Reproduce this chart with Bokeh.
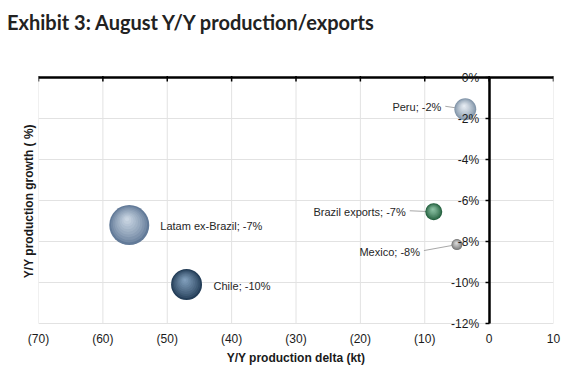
from bokeh.plotting import figure
from bokeh.layouts import column
from bokeh.models import FixedTicker, LinearAxis, ColumnDataSource, Range1d, Div
from bokeh.core.properties import value
from bokeh.embed import file_html
from bokeh.resources import INLINE

# ---------------- data ----------------
names = ["Latam ex-Brazil", "Chile", "Peru", "Brazil exports", "Mexico"]
delta_kt = [-55.9, -47.0, -3.7, -8.6, -5.0]
growth_pct = [-7.2, -10.1, -1.55, -6.55, -8.15]
volume = [1600, 960, 480, 290, 120]
point_labels = ["Latam ex-Brazil; -7%", "Chile; -10%", "Peru; -2%",
                "Brazil exports; -7%", "Mexico; -8%"]
x_ticks = [-70, -60, -50, -40, -30, -20, -10, 0, 10]
x_tick_labels = ["(70)", "(60)", "(50)", "(40)", "(30)", "(20)", "(10)", "0", "10"]
y_ticks = [0, -2, -4, -6, -8, -10, -12]
y_tick_labels = ["0%", "-2%", "-4%", "-6%", "-8%", "-10%", "-12%"]
title_text = "Exhibit 3: August Y/Y production/exports"

# ---------------- style ----------------
edge_cols = ["#627A98", "#243E58", "#8396AA", "#24603F", "#767676"]
light_cols = ["#C9D5E2", "#7F9DBA", "#E6ECF2", "#8CC2A4", "#DADADA"]
label_dx = [31, 27, -24, -28, -37]
label_dy = [1, 1, -2, 0, 7]
label_align = ["left", "left", "right", "right", "right"]
leader = [False, False, True, True, True]

FONT = "Liberation Sans"
XMIN, XMAX, YMIN, YMAX = -70, 10, -12, 0
TITLE_H = 40
ML, MR = 38, 14
FW, FH = 515, 246                         # plot area between the axes, in px
PAD_T, PAD_B = 9, 7                       # room for the y labels
W = ML + FW + MR
MT = 18
MB = 52
H = MT + PAD_T + FH + PAD_B + MB
pxx = FW / (XMAX - XMIN)
pxy = FH / (YMAX - YMIN)

title = Div(text=title_text, width=W, height=TITLE_H,
            styles={"font-family": "Lato", "font-size": "20px", "font-weight": "bold",
                    "color": "#222222", "padding-left": "2px", "padding-top": "5px",
                    "line-height": "24px", "box-sizing": "border-box",
                    "white-space": "nowrap"})

p = figure(width=W, height=H, x_range=Range1d(XMIN, XMAX),
           y_range=Range1d(YMIN - PAD_B / pxy, YMAX + PAD_T / pxy),
           output_backend="svg", toolbar_location=None,
           min_border_left=ML, min_border_right=MR, min_border_top=MT, min_border_bottom=MB,
           x_axis_location=None, y_axis_location=None)
p.outline_line_color = None
p.background_fill_color = "white"
p.border_fill_color = "white"

# grid: horizontal via Grid, vertical drawn between -12% and 0%
p.xgrid.visible = False
p.ygrid.ticker = FixedTicker(ticks=y_ticks)
p.ygrid.grid_line_color = "#E2E2E2"
p.ygrid.grid_line_width = 1
p.segment(x0=x_ticks, y0=[YMIN] * len(x_ticks), x1=x_ticks, y1=[YMAX] * len(x_ticks),
          line_color="#E2E2E2", line_width=1)

# bottom axis: labels only
xb = LinearAxis(ticker=FixedTicker(ticks=x_ticks),
                major_label_overrides={t: l for t, l in zip(x_ticks, x_tick_labels)},
                axis_label="Y/Y production delta (kt)")
xb.axis_line_color = None
xb.major_tick_line_color = None
xb.minor_tick_line_color = None
xb.major_tick_in = 0
xb.major_tick_out = 0
xb.minor_tick_in = 0
xb.minor_tick_out = 0
xb.major_label_text_font = FONT
xb.major_label_text_font_size = "12px"
xb.major_label_text_color = "#1A1A1A"
xb.major_label_standoff = 8 - PAD_B
xb.axis_label_text_font = FONT
xb.axis_label_text_font_size = "12px"
xb.axis_label_text_font_style = "bold"
xb.axis_label_text_color = "#1A1A1A"
xb.axis_label_standoff = 2
p.add_layout(xb, "below")

# left axis: only the title
yl = LinearAxis(ticker=FixedTicker(ticks=[]), axis_label="Y/Y  production growth ( %)")
yl.axis_line_color = None
yl.major_tick_line_color = None
yl.minor_tick_line_color = None
yl.major_tick_in = 0
yl.major_tick_out = 0
yl.minor_tick_in = 0
yl.minor_tick_out = 0
yl.major_label_standoff = 0
yl.axis_label_standoff = 3
yl.axis_label_text_font = FONT
yl.axis_label_text_font_size = "12px"
yl.axis_label_text_font_style = "bold"
yl.axis_label_text_color = "#1A1A1A"
p.add_layout(yl, "left")

# y axis drawn at x = 0
ya = LinearAxis(fixed_location=0, ticker=FixedTicker(ticks=y_ticks), bounds=(YMIN, YMAX),
                major_label_overrides={t: l for t, l in zip(y_ticks, y_tick_labels)})
ya.axis_line_color = "black"
ya.axis_line_width = 2.5
ya.major_tick_line_color = "black"
ya.major_tick_line_width = 1.5
ya.major_tick_in = 0
ya.major_tick_out = 4
ya.minor_tick_line_color = None
ya.major_label_standoff = 6
ya.major_label_text_font = FONT
ya.major_label_text_font_size = "12px"
ya.major_label_text_color = "#1A1A1A"
p.add_layout(ya, "left")

# x axis line at 0% (top) with ticks
p.segment(x0=[XMIN], y0=[YMAX], x1=[XMAX], y1=[YMAX], line_color="black", line_width=2.5)
p.segment(x0=x_ticks, y0=[YMAX + 1.5 / pxy] * len(x_ticks), x1=x_ticks,
          y1=[YMAX - 4 / pxy] * len(x_ticks), line_color="black", line_width=1.5)

# leader lines
for i in range(len(names)):
    if leader[i]:
        x_start = delta_kt[i] + (label_dx[i] + 4) / pxx
        y_start = growth_pct[i] - (label_dy[i] - 1) / pxy
        p.segment(x0=[x_start], y0=[y_start], x1=[delta_kt[i]], y1=[growth_pct[i]],
                  line_color="#A8A8A8", line_width=1)


def mix(c1, c2, t):
    a = [int(c1[k:k + 2], 16) for k in (1, 3, 5)]
    b = [int(c2[k:k + 2], 16) for k in (1, 3, 5)]
    return "#" + "".join(f"{round(a[j] + (b[j] - a[j]) * t):02x}" for j in range(3))


# shaded bubbles
N = 10
for i in range(len(names)):
    d = volume[i] ** 0.5
    r = d / 2
    xs, ys, ss, cs = [], [], [], []
    for k in range(N):
        f = 1 - k / N
        t = (k / (N - 1)) ** 0.8
        xs.append(delta_kt[i] - (1 - f) * r * 0.12 / pxx)
        ys.append(growth_pct[i] + (1 - f) * r * 0.32 / pxy)
        ss.append(d * f)
        cs.append(mix(edge_cols[i], light_cols[i], t))
    p.scatter(x=xs, y=ys, size=ss, fill_color=cs, line_color=None, marker="circle")

# point labels
src = ColumnDataSource(dict(x=delta_kt, y=growth_pct, t=point_labels,
                            dx=label_dx, dy=label_dy, al=label_align))
p.text(x="x", y="y", text="t", x_offset="dx", y_offset="dy", text_align="al",
       text_baseline="middle", text_font=value(FONT), text_font_size="11px",
       text_color="#262626", source=src)

layout = column(title, p, spacing=0)
open("out.html", "w").write(file_html(layout, INLINE))
